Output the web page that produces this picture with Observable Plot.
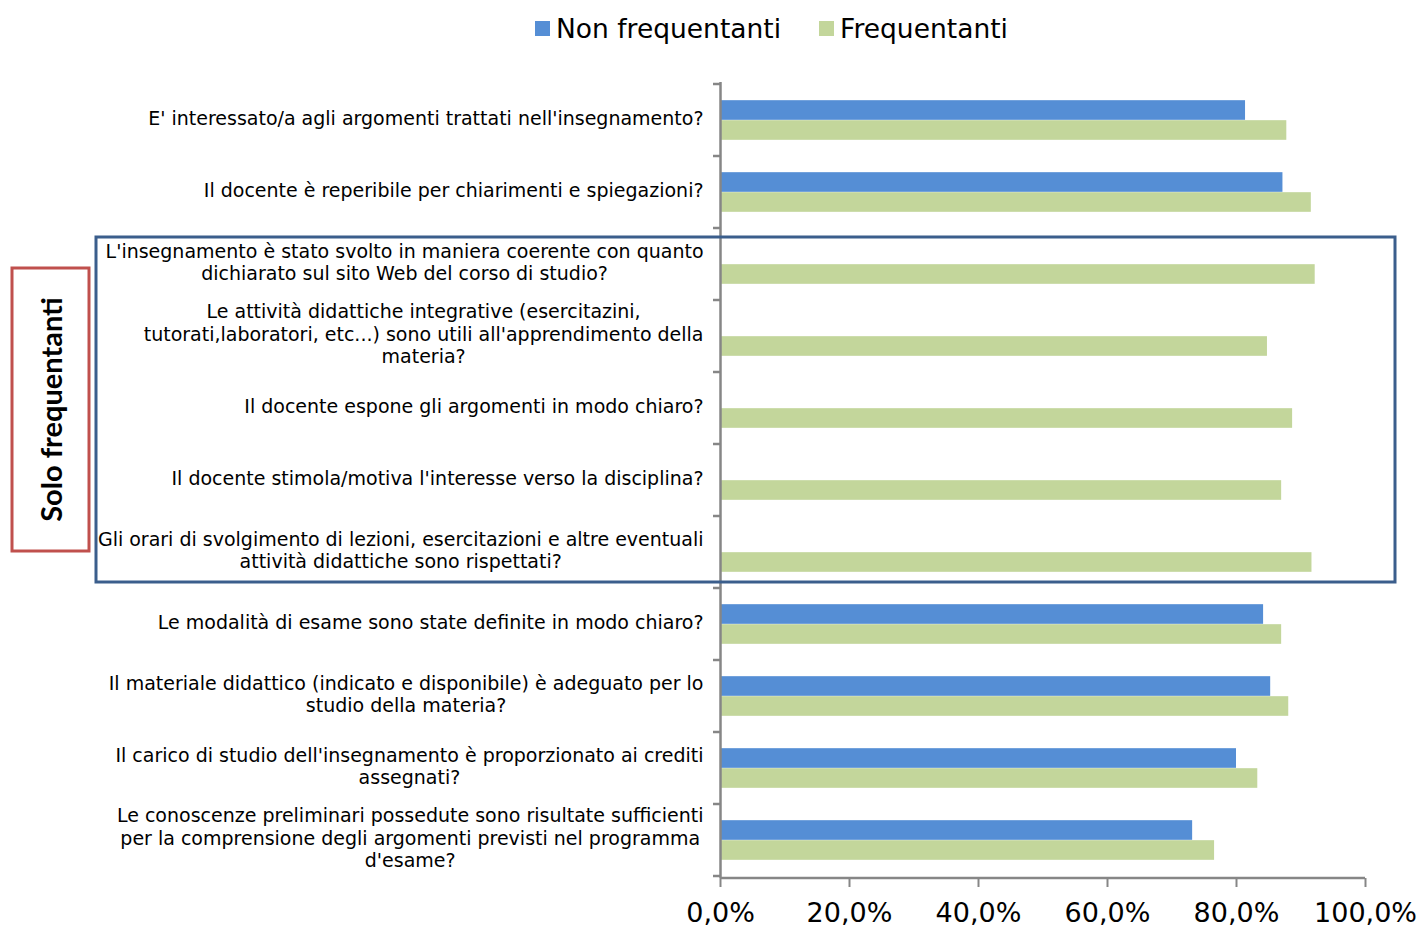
<!DOCTYPE html>
<html>
<head>
<meta charset="utf-8">
<script src="https://cdn.jsdelivr.net/npm/d3@7"></script>
<script src="https://cdn.jsdelivr.net/npm/@observablehq/plot@0.6"></script>
<style>
  html, body { margin: 0; padding: 0; background: #fff; }
  #legend { height: 55px; display: flex; align-items: center; padding-left: 535px; padding-top: 2px; font-family: "DejaVu Sans", sans-serif; font-size: 26.5px; color: #000; box-sizing: border-box; }
  .item { display: flex; align-items: center; margin-right: 38px; }
  .sw { width: 15px; height: 15px; margin-right: 6px; }
  svg { overflow: visible; }
</style>
</head>
<body>
<div id="legend"></div>
<div id="chart"></div>
<script>
const categories = [
  "E' interessato/a agli argomenti trattati nell'insegnamento?",
  "Il docente è reperibile per chiarimenti e spiegazioni?",
  "L'insegnamento è stato svolto in maniera coerente con quanto\ndichiarato sul sito Web del corso di studio?",
  "Le attività didattiche integrative (esercitazini,\ntutorati,laboratori, etc...) sono utili all'apprendimento della\nmateria?",
  "Il docente espone gli argomenti in modo chiaro?",
  "Il docente stimola/motiva l'interesse verso la disciplina?",
  "Gli orari di svolgimento di lezioni, esercitazioni e altre eventuali\nattività didattiche sono rispettati?",
  "Le modalità di esame sono state definite in modo chiaro?",
  "Il materiale didattico (indicato e disponibile) è adeguato per lo\nstudio della materia?",
  "Il carico di studio dell'insegnamento è proporzionato ai crediti\nassegnati?",
  "Le conoscenze preliminari possedute sono risultate sufficienti\nper la comprensione degli argomenti previsti nel programma\nd'esame?"
];
const seriesNames = ["Non frequentanti", "Frequentanti"];
const seriesColors = ["#558ED5", "#C3D69B"];
const nonFrequentanti = [81.4, 87.2, null, null, null, null, null, 84.2, 85.3, 80.0, 73.2];
const frequentanti   = [87.8, 91.6, 92.2, 84.8, 88.7, 87.0, 91.7, 87.0, 88.1, 83.3, 76.6];
const xTicks = [0, 0.2, 0.4, 0.6, 0.8, 1];
const boxLabel = "Solo frequentanti";
const boxFirst = 2, boxLast = 6; // category indices framed by the box

// legend
const legend = d3.select("#legend");
seriesNames.forEach((s, i) => {
  const it = legend.append("div").attr("class", "item");
  it.append("div").attr("class", "sw").style("background", seriesColors[i]);
  it.append("span").text(s);
});

const W = 1421, H = 870, mt = 27, mb = 47, ml = 720, mr = 56;
const step = (H - mt - mb) / categories.length;
const barH = 20;

const rows = categories.flatMap((c, i) => [
  {cat: c, series: seriesNames[0], value: nonFrequentanti[i]},
  {cat: c, series: seriesNames[1], value: frequentanti[i]}
]).filter(d => d.value != null);

const fmt = d => (d * 100).toFixed(1).replace(".", ",") + "%";

const plot = Plot.plot({
  width: W, height: H,
  marginTop: mt, marginBottom: mb, marginLeft: ml, marginRight: mr,
  x: {domain: [0, 1], axis: null},
  y: {domain: categories, padding: 0, axis: null},
  style: {fontFamily: "DejaVu Sans, sans-serif", fontSize: "19px", color: "#000", background: "white", overflow: "visible"},
  marks: [
    Plot.barX(rows.filter(d => d.series === seriesNames[0]), {
      x: d => d.value / 100, y: "cat", fill: seriesColors[0],
      insetTop: step / 2 - barH, insetBottom: step / 2
    }),
    Plot.barX(rows.filter(d => d.series === seriesNames[1]), {
      x: d => d.value / 100, y: "cat", fill: seriesColors[1],
      insetTop: step / 2, insetBottom: step / 2 - barH
    }),
    Plot.axisX({ticks: xTicks, tickFormat: fmt, tickSize: 9, tickPadding: 15, fontSize: 27, stroke: "#868686", strokeWidth: 2, label: null}),
    Plot.axisY({tickSize: 0, tickPadding: 17, fontSize: 19, lineHeight: 1.17, dy: -3, tickFormat: d => d, label: null}),
    Plot.ruleX([0], {stroke: "#868686", strokeWidth: 2.5})
  ]
});

document.getElementById("chart").appendChild(plot);

const svg = d3.select(plot);
const xs = plot.scale("x"), ys = plot.scale("y");
const x0 = xs.apply(0), x1 = xs.apply(1);
const bw = ys.bandwidth;

// bottom axis line
svg.append("line").attr("x1", x0).attr("x2", x1).attr("y1", H - mb).attr("y2", H - mb)
  .attr("stroke", "#868686").attr("stroke-width", 2.5);
// category boundary ticks
const bounds = categories.map(c => ys.apply(c)).concat([ys.apply(categories[categories.length - 1]) + bw]);
svg.append("g").selectAll("line").data(bounds).join("line")
  .attr("x1", x0 - 7).attr("x2", x0).attr("y1", d => d).attr("y2", d => d)
  .attr("stroke", "#868686").attr("stroke-width", 2.5);

// center multi-line category labels
svg.selectAll('g[aria-label="y-axis tick label"] text').each(function() {
  const tspans = this.querySelectorAll("tspan");
  if (tspans.length > 1) {
    let maxW = 0;
    tspans.forEach(t => { maxW = Math.max(maxW, t.getComputedTextLength()); });
    this.setAttribute("text-anchor", "middle");
    tspans.forEach(t => t.setAttribute("x", -maxW / 2));
  }
});

// "Solo frequentanti" boxes
const by0 = ys.apply(categories[boxFirst]) + 9;
const by1 = ys.apply(categories[boxLast]) + bw - 6;
svg.append("rect").attr("x", 96).attr("y", by0).attr("width", 1395 - 96).attr("height", by1 - by0)
  .attr("fill", "none").attr("stroke", "#3B5E8C").attr("stroke-width", 3);
const cy = (by0 + by1) / 2, rh = 283;
svg.append("rect").attr("x", 12).attr("y", cy - rh / 2).attr("width", 77).attr("height", rh)
  .attr("fill", "white").attr("stroke", "#C0504D").attr("stroke-width", 3);
svg.append("text").attr("transform", `translate(50,${cy}) rotate(-90)`)
  .attr("text-anchor", "middle").attr("dominant-baseline", "central")
  .attr("font-family", "Lato, sans-serif").attr("font-weight", "bold").attr("font-size", 29)
  .attr("fill", "#000").text(boxLabel);
</script>
</body>
</html>
